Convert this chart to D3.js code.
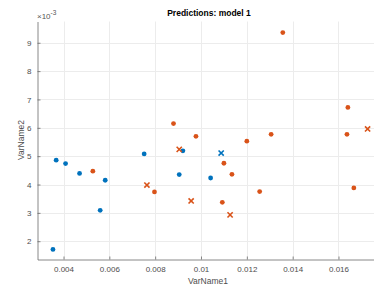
<!DOCTYPE html>
<html><head><meta charset="utf-8">
<script src="https://cdn.jsdelivr.net/npm/d3@7"></script>
<style>body{margin:0;background:#fff}svg{display:block}text{font-family:"Liberation Sans",Arial,Helvetica,sans-serif}</style>
</head><body><svg id="c" width="374" height="289"></svg>
<script>
// Data (x: VarName1, y: VarName2)
const blueDotX = [0.00368,0.00409,0.00470,0.00582,0.00560,0.00354,0.00752,0.00921,0.00905,0.01042];
const blueDotY = [0.00486,0.00474,0.00439,0.00415,0.00309,0.00171,0.00508,0.00519,0.00435,0.00423];
const blueCrossX = [0.01088];
const blueCrossY = [0.00511];
const orangeDotX = [0.00528,0.00797,0.00880,0.00978,0.01200,0.01306,0.01357,0.01641,0.01637,0.01100,0.01135,0.01256,0.01093,0.01667];
const orangeDotY = [0.00447,0.00374,0.00615,0.00570,0.00553,0.00577,0.00936,0.00672,0.00577,0.00475,0.00436,0.00375,0.00337,0.00388];
const orangeCrossX = [0.00764,0.00905,0.01727,0.00957,0.01127];
const orangeCrossY = [0.00398,0.00524,0.00596,0.00342,0.00293];
const xTicks = [0.004,0.006,0.008,0.01,0.012,0.014,0.016];
const yTicks = [0.002,0.003,0.004,0.005,0.006,0.007,0.008,0.009];
const yTickLabels = ["2","3","4","5","6","7","8","9"];
const titleText = "Predictions: model 1";
const xLabel = "VarName1", yLabel = "VarName2";

const svg = d3.select("#c");
const L = 37.5, R = 378, T = 21.5, B = 259.5;
const x = d3.scaleLinear().domain([0.002865, 0.002865 + (R-L)/45.83*0.002]).range([L, R]);
const y = d3.scaleLinear().domain([0.001355, 0.001355 + (B-T)/28.35*0.001]).range([B, T]);
const blue = "#0072BD", orange = "#D95319";

// grid
const g = svg.append("g");
g.selectAll(".gx").data(xTicks).join("line").attr("x1",d=>Math.round(x(d))+0.5).attr("x2",d=>Math.round(x(d))+0.5)
  .attr("y1",T).attr("y2",B).attr("stroke","#ececec").attr("stroke-width",1);
g.selectAll(".gy").data(yTicks).join("line").attr("y1",d=>Math.round(y(d))+0.5).attr("y2",d=>Math.round(y(d))+0.5)
  .attr("x1",L).attr("x2",R).attr("stroke","#ececec").attr("stroke-width",1);

// axes
const xAxis = d3.axisBottom(x).tickValues(xTicks).tickSizeInner(-3).tickSizeOuter(0).tickPadding(7)
  .tickFormat(d=>d3.format("~g")(+d.toFixed(3)));
const yAxis = d3.axisLeft(y).tickValues(yTicks).tickSizeInner(-3).tickSizeOuter(0).tickPadding(6)
  .tickFormat((d,i)=>yTickLabels[i]);
const ax = svg.append("g").attr("transform",`translate(0,${B})`).call(xAxis);
const ay = svg.append("g").attr("transform",`translate(${L},0)`).call(yAxis);
[ax,ay].forEach(a=>{
  a.select(".domain").attr("stroke","#6a6a6a").attr("stroke-width",0.8);
  a.selectAll(".tick line").attr("stroke","#6a6a6a").attr("stroke-width",0.8);
  a.selectAll(".tick text").attr("fill","#4d4d4d").style("font-size","8px");
});

// points
function dots(xs, ys, col){
  svg.append("g").selectAll("circle").data(xs.map((v,i)=>[v,ys[i]])).join("circle")
    .attr("cx",d=>x(d[0])).attr("cy",d=>y(d[1])).attr("r",2.4).attr("fill",col);
}
function crosses(xs, ys, col){
  const s = 2.6;
  svg.append("g").selectAll("path").data(xs.map((v,i)=>[v,ys[i]])).join("path")
    .attr("d",d=>{const cx=x(d[0]),cy=y(d[1]);return `M${cx-s},${cy-s}L${cx+s},${cy+s}M${cx-s},${cy+s}L${cx+s},${cy-s}`;})
    .attr("stroke",col).attr("stroke-width",1.6).attr("fill","none");
}
dots(blueDotX, blueDotY, blue);
crosses(blueCrossX, blueCrossY, blue);
dots(orangeDotX, orangeDotY, orange);
crosses(orangeCrossX, orangeCrossY, orange);

// texts
svg.append("text").attr("x",209).attr("y",16).attr("text-anchor","middle").style("font-size","8.5px")
  .style("font-weight","bold").attr("fill","#000").text(titleText);
const ex = svg.append("text").attr("x",37).attr("y",18.5).style("font-size","8px").attr("fill","#555");
ex.append("tspan").text("×10");
ex.append("tspan").attr("dy",-3.5).style("font-size","6.5px").text("-3");
svg.append("text").attr("x",208).attr("y",284).attr("text-anchor","middle").style("font-size","8.5px")
  .attr("fill","#4d4d4d").text(xLabel);
svg.append("text").attr("transform","translate(24,140) rotate(-90)").attr("text-anchor","middle")
  .style("font-size","8.5px").attr("fill","#4d4d4d").text(yLabel);
</script></body></html>
